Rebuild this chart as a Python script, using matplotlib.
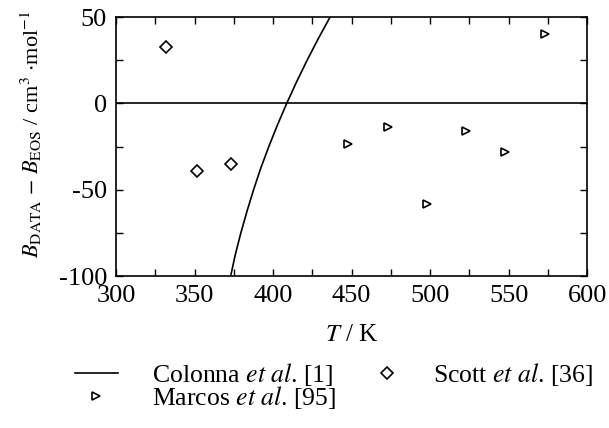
import matplotlib
matplotlib.use("Agg")
import matplotlib.pyplot as plt

plt.rcParams['font.family'] = ['Liberation Serif', 'DejaVu Serif']
plt.rcParams['mathtext.fontset'] = 'stix'
plt.rcParams['axes.unicode_minus'] = False

# Colonna et al. [1] curve
colonna_T = [373.0, 376.0, 379.5, 383.4, 387.6, 392.2, 397.3, 402.8, 408.7, 415.0, 421.7, 428.8, 436.3]
colonna_dB = [-100, -87.5, -75, -62.5, -50, -37.5, -25, -12.5, 0, 12.5, 25, 37.5, 50]

# Scott et al. [36]
scott_T = [332, 351.5, 373.5]
scott_dB = [32.5, -39, -35]

# Marcos et al. [95]
marcos_T = [448, 473, 498, 523, 548, 573]
marcos_dB = [-23.5, -13.5, -58, -16, -28, 40.5]

fig = plt.figure(figsize=(6.09, 4.28), dpi=100)
ax = fig.add_axes([0.1905, 0.355, 0.7735, 0.605])

ax.axhline(0, color='black', lw=1.2)
ln, = ax.plot(colonna_T, colonna_dB, color='black', lw=1.2)
sc, = ax.plot(scott_T, scott_dB, 'D', ms=6, mfc='white', mec='black', mew=1.2, ls='none')
mc, = ax.plot(marcos_T, marcos_dB, '>', ms=6, mfc='white', mec='black', mew=1.2, ls='none')

ax.set_xlim(300, 600)
ax.set_ylim(-100, 50)
ax.set_xticks(range(300, 601, 50))
ax.set_xticks(range(325, 600, 50), minor=True)
ax.set_yticks(range(-100, 51, 50))
ax.set_yticks(range(-75, 50, 50), minor=True)
ax.tick_params(which='both', direction='in', top=True, right=True, length=5, width=1,
               labelsize=19, pad=6.5)
for s in ax.spines.values():
    s.set_linewidth(1.2)

ax.set_xlabel('$T$ / K', fontsize=18, labelpad=12)
ax.set_ylabel(r'$B_{\mathrm{DATA}}$ $-$ $B_{\mathrm{EOS}}$ / cm$^3$ $\cdot$mol$^{-1}$', fontsize=16)
ax.yaxis.set_label_coords(-0.153, 0.548)

# legend: first column (Colonna, Marcos), second column (Scott)
leg_kw = dict(loc='upper left', frameon=False, fontsize=18.5, handlelength=1.67,
              labelspacing=-0.17, borderpad=0, borderaxespad=0)
fig.legend([ln, mc], [r'Colonna $\it{et\ al}$. [1]', r'Marcos $\it{et\ al}$. [95]'],
           bbox_to_anchor=(0.123, 0.156), handletextpad=1.32, **leg_kw)
fig.legend([sc], [r'Scott $\it{et\ al}$. [36]'],
           bbox_to_anchor=(0.600, 0.156), handletextpad=0.95, **leg_kw)

fig.savefig('out.png', dpi=100)
